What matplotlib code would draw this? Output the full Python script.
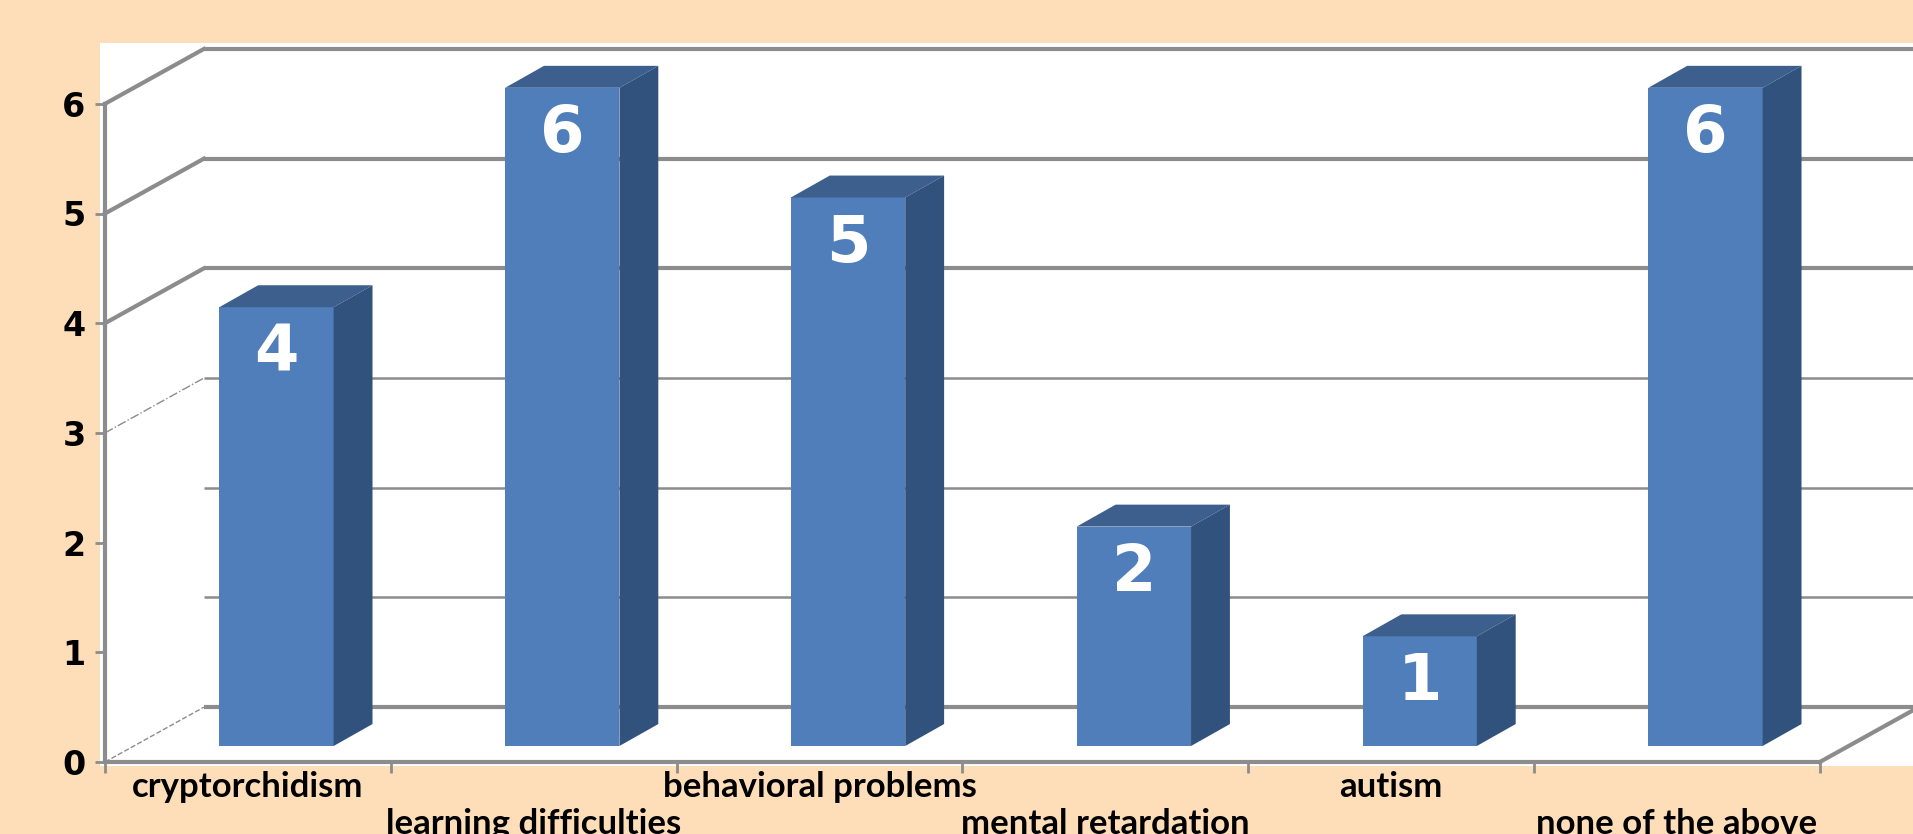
import matplotlib
matplotlib.use("Agg")
import matplotlib.pyplot as plt
from matplotlib.patches import Polygon, Rectangle

categories = ["cryptorchidism", "learning difficulties", "behavioral problems",
              "mental retardation", "autism", "none of the above"]
values = [4, 6, 5, 2, 1, 6]
yticks = [0, 1, 2, 3, 4, 5, 6]

BG = "#FEDEB9"
FRONT = "#4F7EBA"
SIDE = "#31527C"
TOP = "#3C5F8E"
GRID = "#8C8C8C"

W, H, DPI = 1913, 834, 100
X0PX, UX = 105, 285.8      # pixel of x=0, pixels per category
Y0PX, UY = 762, 109.7      # pixel (from top) of y=0, pixels per unit

fig = plt.figure(figsize=(W / DPI, H / DPI), dpi=DPI)
fig.patch.set_facecolor(BG)
ax = fig.add_axes([0, 0, 1, 1])
ax.set_facecolor(BG)
ax.set_xlim(-X0PX / UX, (W - X0PX) / UX)
ax.set_ylim(-(H - Y0PX) / UY, Y0PX / UY)
xmin, xmax = ax.get_xlim()
ymin, ymax = ax.get_ylim()

# white plot area
ax.add_patch(Rectangle((-0.017, -0.04), xmax + 0.017, 6.55 + 0.04,
                       facecolor="white", edgecolor="none", zorder=0))

DX, DY = 0.346, 0.5          # depth of the back wall
n = len(categories)

# back wall gridlines
for k in yticks:
    lw = 3.0 if k in (0, 4, 5, 6) else 1.8
    ax.plot([DX, xmax], [k + DY, k + DY], color=GRID, lw=lw, zorder=1,
            solid_capstyle="butt")

# left wall diagonals
for k in yticks:
    if k >= 4:
        ax.plot([0, DX], [k, k + DY], color=GRID, lw=3.0, zorder=1)
    elif k == 3:
        ax.plot([0, DX], [k, k + DY], color=GRID, lw=1.0, ls="-.", zorder=1)
    elif k == 0:
        ax.plot([0, DX], [k, k + DY], color=GRID, lw=1.0, ls="--", zorder=1)

# right floor edge
ax.plot([n, n + DX], [0, DY], color=GRID, lw=3.0, zorder=1)

# bars (pseudo 3D)
BW = 0.4
FX, FY = 0.1, 0.146          # front face offset into depth
BDX, BDY = 0.136, 0.2        # bar depth
for i, v in enumerate(values):
    x0 = i + 0.5 - BW / 2 + FX
    y0 = FY
    ax.bar(x0, v, width=BW, bottom=y0, align="edge", color=FRONT,
           edgecolor="none", zorder=4)
    top = [(x0, y0 + v), (x0 + BW, y0 + v),
           (x0 + BW + BDX, y0 + v + BDY), (x0 + BDX, y0 + v + BDY)]
    side = [(x0 + BW, y0), (x0 + BW + BDX, y0 + BDY),
            (x0 + BW + BDX, y0 + v + BDY), (x0 + BW, y0 + v)]
    ax.add_patch(Polygon(top, closed=True, facecolor=TOP, edgecolor="none", zorder=4))
    ax.add_patch(Polygon(side, closed=True, facecolor=SIDE, edgecolor="none", zorder=4))
    ax.text(x0 + BW / 2, y0 + v - 0.42, str(v), color="white", fontsize=46,
            fontweight="bold", family="DejaVu Sans", ha="center", va="center",
            zorder=5)

# front axes
for side_name in ("top", "right"):
    ax.spines[side_name].set_visible(False)
ax.spines["left"].set_position(("data", 0))
ax.spines["bottom"].set_position(("data", 0))
ax.spines["left"].set_bounds(0, 6)
ax.spines["bottom"].set_bounds(0, n)
for s in ("left", "bottom"):
    ax.spines[s].set_color(GRID)
    ax.spines[s].set_linewidth(3.0)
    ax.spines[s].set_zorder(3)

ax.set_yticks(yticks)
ax.set_yticklabels([str(t) for t in yticks], fontsize=24, fontweight="heavy",
                   family="DejaVu Sans")
ax.tick_params(axis="y", direction="out", length=7, width=2, color=GRID, pad=7)
ax.set_xticks(range(n + 1))
ax.set_xticklabels([""] * (n + 1))
ax.tick_params(axis="x", direction="out", length=8, width=2, color=GRID)

for i, c in enumerate(categories):
    yy = -0.23 if i % 2 == 0 else -0.565
    ax.text(i + 0.5, yy, c, fontsize=25, fontweight="bold", family="Lato",
            ha="center", va="center", color="black", zorder=5)

fig.savefig("out.png", dpi=DPI, facecolor=BG)
